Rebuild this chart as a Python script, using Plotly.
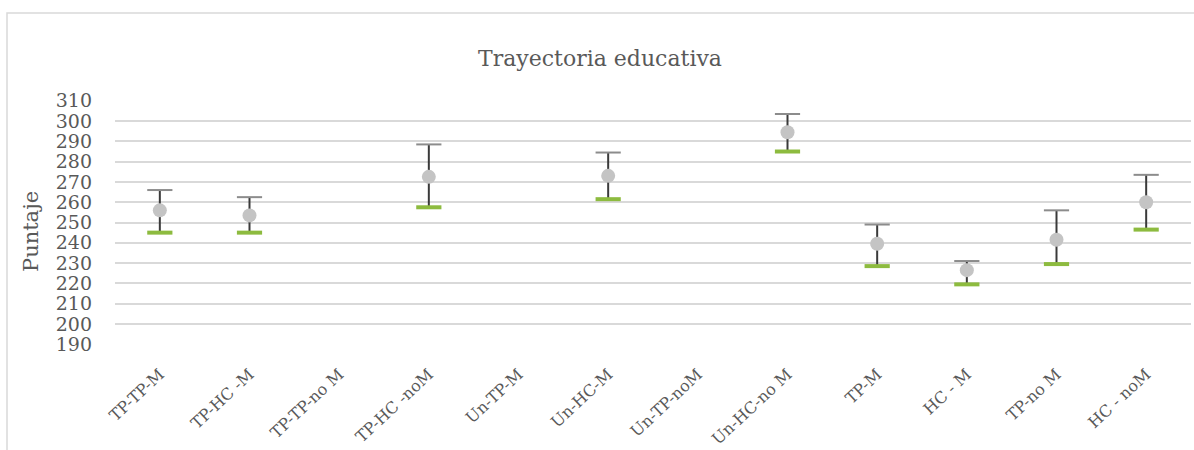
import plotly.graph_objects as go

# Score trajectories: high / low / mean per educational path
categories = ["TP-TP-M", "TP-HC -M", "TP-TP-no M", "TP-HC -noM", "Un-TP-M", "Un-HC-M",
              "Un-TP-noM", "Un-HC-no M", "TP-M", "HC - M", "TP-no M", "HC - noM"]
high = [266, 262.5, None, 288.5, None, 284.5, None, 303.5, 249, 231, 256, 273.5]
low = [245, 245, None, 257.5, None, 261.5, None, 285, 228.5, 219.5, 229.5, 246.5]
mean = [256, 253.5, None, 272.5, None, 273, None, 294.5, 239.5, 226.5, 241.5, 260]

y_ticks = list(range(190, 311, 10))

FONT = "DejaVu Serif"
TEXT = "#595959"

W, H = 1194, 450
ML, MR, MT, MB = 115, 3, 100, 105

# high-low whiskers as one broken line
wx, wy = [], []
for c, h, l in zip(categories, high, low):
    if h is None or l is None:
        continue
    wx += [c, c, None]
    wy += [l, h, None]

fig = go.Figure()
fig.add_trace(go.Scatter(x=wx, y=wy, mode="lines",
                         line=dict(color="#3A3A3A", width=2),
                         hoverinfo="skip", showlegend=False))
fig.add_trace(go.Scatter(x=categories, y=high, mode="markers", name="Alto",
                         marker=dict(symbol="line-ew", size=18,
                                     line=dict(color="#8C8C8C", width=2)),
                         showlegend=False))
fig.add_trace(go.Scatter(x=categories, y=mean, mode="markers", name="Promedio",
                         marker=dict(symbol="circle", size=14, color="#C4C4C4"),
                         showlegend=False))
fig.add_trace(go.Scatter(x=categories, y=low, mode="markers", name="Bajo",
                         marker=dict(symbol="line-ew", size=18,
                                     line=dict(color="#8DBB3F", width=4)),
                         showlegend=False))

pw = W - ML - MR
ph = H - MT - MB

fig.update_layout(
    width=W, height=H,
    margin=dict(l=ML, r=MR, t=MT, b=MB, pad=0),
    paper_bgcolor="white", plot_bgcolor="white",
    font=dict(family=FONT, color=TEXT),
    title=dict(text="Trayectoria educativa", x=600 / W, xanchor="center",
               y=1 - 58 / H, yanchor="middle",
               font=dict(family=FONT, size=22, color=TEXT)),
    xaxis=dict(type="category", categoryorder="array", categoryarray=categories,
               range=[-0.5, len(categories) - 0.5],
               showgrid=False, showline=False, zeroline=False,
               tickangle=-43, tickfont=dict(family=FONT, size=16, color=TEXT),
               ticks="", ticklabelstandoff=16),
    yaxis=dict(range=[189.6, 310.4], tickvals=y_ticks,
               showgrid=True, gridcolor="#D9D9D9", gridwidth=1.8,
               showline=False, zeroline=False, ticks="",
               tickfont=dict(family=FONT, size=19, color=TEXT),
               ticklabelstandoff=22),
    shapes=[dict(type="rect", xref="paper", yref="paper",
                 x0=(7 - ML) / pw, x1=1.2,
                 y0=-1.0, y1=(H - MB - 13) / ph,
                 line=dict(color="#D9D9D9", width=1.5), layer="below")],
    annotations=[dict(text="Puntaje", xref="paper", yref="paper",
                      x=(31 - ML) / pw, y=(H - MB - 232) / ph,
                      xanchor="center", yanchor="middle", textangle=-90,
                      showarrow=False,
                      font=dict(family=FONT, size=21, color=TEXT))],
)

fig.write_html("out.html")
